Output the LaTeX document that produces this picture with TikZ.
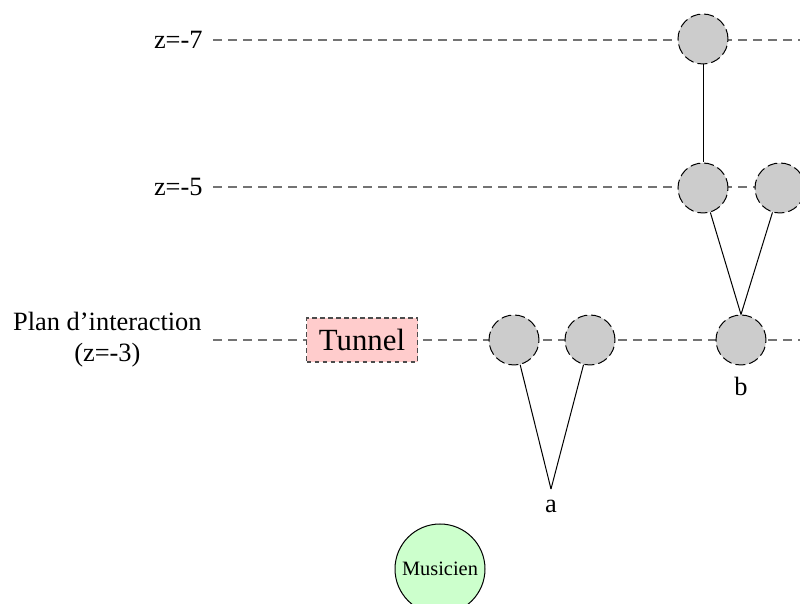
\documentclass[tikz,border=0pt]{standalone}
\usepackage{fontspec}
\setmainfont{Liberation Serif}
\begin{document}
\begin{tikzpicture}[x=0.5pt,y=-0.5pt,
  planline/.style={draw=black!55,line width=0.6pt,dash pattern=on 4.5pt off 3pt},
  ball/.style={circle,draw=black,fill=black!20,line width=0.5pt,dash pattern=on 5pt off 2pt,minimum size=25pt,inner sep=0pt},
  link/.style={draw=black,line width=0.5pt},
  lbl/.style={font=\fontsize{13.2}{15.6}\selectfont,inner sep=0pt},
  tunnelbox/.style={draw=black!70,fill=red!20,line width=0.75pt,dash pattern=on 2.4pt off 1.6pt,minimum width=55.5pt,minimum height=22pt,inner sep=0pt,font=\fontsize{15.4}{18}\selectfont},
  musbox/.style={circle,draw=black,fill=green!20,line width=0.5pt,minimum size=45pt,inner sep=0pt,font=\fontsize{10.2}{12}\selectfont}]
\useasboundingbox (0,0) rectangle (800,604);
\clip (0,0) rectangle (800,604);
% plane labels
\node[lbl,anchor=east] (l7) at (203,40) {z=-7};
\node[lbl,anchor=east] (l5) at (203,187) {z=-5};
\node[lbl,anchor=east,align=center] (l3) at (202,340) {Plan d'interaction\\(z=-3)};
% plane lines
\coordinate (e7) at (800,40);
\coordinate (e5) at (800,187);
\coordinate (e3) at (800,340);
\coordinate (s7) at (213,40);
\coordinate (s5) at (213,187);
\coordinate (s3) at (213,340);
\draw[planline] (s7) -- (e7);
\draw[planline] (s5) -- (e5);
\draw[planline] (s3) -- (e3);
% nodes
\node[tunnelbox] (tun) at (362,340) {Tunnel};
\node[ball] (t1) at (703,39) {};
\node[ball] (m1) at (703,188) {};
\node[ball] (m2) at (780,188) {};
\node[ball] (a1) at (514,340) {};
\node[ball] (a2) at (590,340) {};
\node[ball] (b1) at (741,340) {};
\coordinate (va) at (551,489);
\node[lbl] (la) at (551,506) {a};
\node[lbl] (lb) at (741,386) {b};
\node[musbox] (mus) at (440,569) {Musicien};
% links
\draw[link] (t1) -- (m1);
\draw[link] (m1) -- (b1.north);
\draw[link] (m2) -- (b1.north);
\draw[link] (a1) -- (va);
\draw[link] (a2) -- (va);
\end{tikzpicture}
\end{document}
